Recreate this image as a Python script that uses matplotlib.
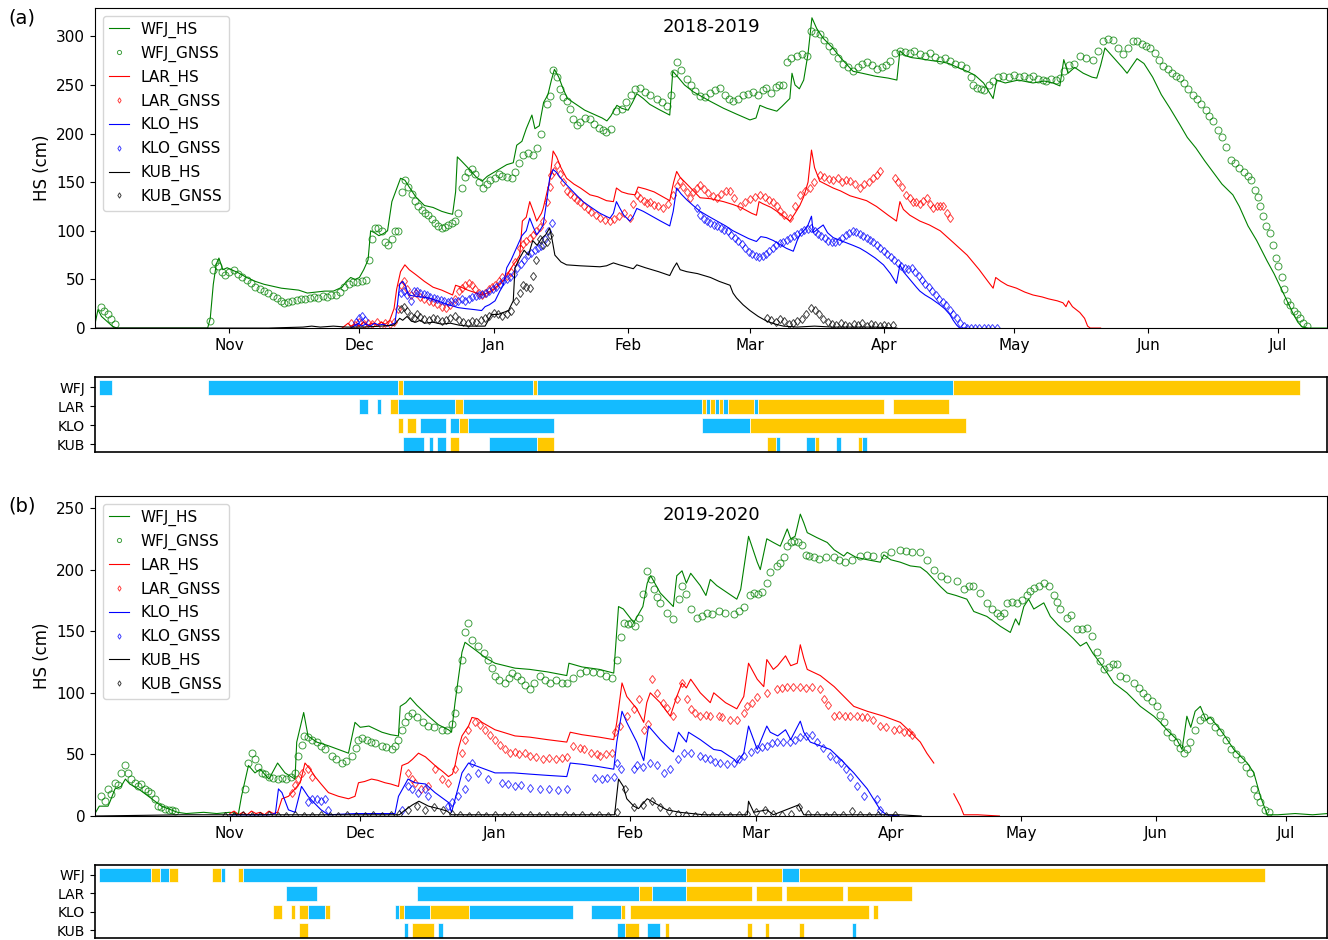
import numpy as np
import pandas as pd
import matplotlib
matplotlib.use("Agg")
import matplotlib.pyplot as plt

# x values are days since 1 October of the season start, y values snow height (cm)

# ---------------- 2018-2019 ----------------
wfj_hs_a = [(0,4),(0.7,19),(1.5,12),(2.5,8),(4,2),(5,0),(26,0),(26.6,10),(27.3,45),(28,66),(28.6,72),(29.5,60),
    (30.5,62),(31.5,60),(33,57),(35,52),(37,48),(39,45),(41,43),(43,41),(45,40),(47,39),(49,36),(51,37),(53,38),
    (55,38),(56,40),(57,42),(58,48),(59,52),(60,50),(61,52),(62,60),(63,70),(63.6,100),(64.5,98),(65.5,95),(66.5,97),
    (67.5,100),(68.5,130),(69.5,142),(70.5,154),(71.5,152),(72.5,145),(74,135),(76,126),(78,124),(80,120),(81.5,118),
    (82.5,117),(83.2,140),(83.6,176),(84.5,172),(86,165),(88,155),(89.3,151),(90.5,156),(92,160),(93.5,164),(95,168),
    (96.5,170),(97.3,188),(98.5,192),(99.5,205),(100.8,219),(101.5,205),(102.5,208),(103.5,232),(104.5,240),(105.3,255),
    (106,266),(107,258),(108,246),(109,236),(111,230),(113,224),(115,220),(117,216),(118.1,213),(119,218),(120.4,229),
    (121.5,226),(123,224),(124,232),(125,241),(126.5,236),(128,230),(130,225),(132.6,219),(133.3,264),(134.5,258),
    (136,250),(138,243),(139.6,239),(142,233),(145,226),(148,220),(151.1,214),(152.5,216),(153.4,229),(155,226),
    (157.3,223),(158.5,228),(160.3,236),(160.8,262),(161.5,250),(162.5,246),(163.5,255),(164.5,282),(165.4,319),
    (166.5,308),(168,298),(170.2,288),(172,278),(174.9,264),(177,262),(180,259),(183,257),(185,255),(185.7,285),
    (187,280),(188.5,278),(190.3,277),(193,275),(195,274),(197,272),(199,268),(201.2,264),(203,260),(205,252),
    (207.2,236),(208,255),(210,252),(213,255),(216.4,252),(219,254),(221,252),(222.6,249),(223.5,276),(224.5,262),
    (226,268),(228,262),(230,258),(231.1,257),(232,270),(233,288),(235,278),(237,268),(238.1,262),(239,268),
    (240.4,277),(242,272),(244,258),(246,240),(248,226),(250.3,209),(252,196),(254,185),(256,172),(258,160),
    (260,148),(262.5,137),(264,125),(266,105),(268,90),(270.4,69),(272,56),(273.5,42),(275,28),(276.5,14),
    (277.5,6),(278.5,1),(280,0),(284.3,0)]
wfj_gnss_a = [(1.5,22),(2.2,18),(3,14),(3.8,9),(4.6,4),(26.5,7),(27.2,60),(27.8,68),(28.5,64),(29.2,58),(30,55),
    (31,58),(32,60),(33,56),(34,52),(35,49),(36,46),(37,42),(38,40),(39,38),(40,36),(41,33),(42,31),(43,28),
    (43.5,26),(44.5,27),(45.5,28),(46.5,29),(47.5,30),(48.5,30),(49.5,31),(50.5,32),(51.5,31),(52.5,33),(53.5,32),
    (54.5,34),(55.5,34),(56.5,37),(57.5,42),(58.5,45),(59.5,47),(60.5,47),(61.5,48),(62.5,49),(63.3,70),(63.8,92),
    (64.6,103),(65.4,103),(66.2,100),(67,88),(67.7,85),(68.5,92),(69.2,100),(70,100),(70.8,140),(71.5,152),
    (72.3,145),(73.1,138),(73.8,131),(74.6,126),(75.4,121),(76.2,118),(76.9,116),(77.7,112),(78.5,108),(79.2,105),
    (80,103),(80.8,104),(81.5,106),(82.3,108),(83.1,110),(83.8,118),(84.6,144),(85.4,155),(86.1,160),(86.9,164),
    (87.7,158),(88.5,150),(89.6,144),(90.4,148),(91.2,152),(92.3,154),(93.1,158),(94,156),(95,155),(96.2,154),
    (97,160),(97.8,170),(98.8,178),(100,180),(101.1,178),(102,185),(103,200),(104.2,230),(104.9,239),(105.7,265),
    (106.5,258),(107.3,246),(108,238),(108.8,233),(109.6,225),(110.3,215),(111.1,209),(112,212),(113,216),
    (114.2,215),(115.2,210),(116.2,206),(117.2,204),(118,202),(119,205),(120.3,223),(121.5,225),(122.5,232),
    (123.6,240),(124.6,246),(125.7,247),(126.8,243),(128,240),(129.6,236),(130.7,232),(131.9,228),(132.8,240),
    (133.6,262),(134.2,274),(135.3,265),(136.5,256),(137.5,250),(138.5,244),(139.6,239),(140.7,238),(141.8,242),
    (143,245),(144.2,247),(145.3,240),(146.2,236),(147.2,233),(148.3,236),(149.5,240),(150.7,241),(151.9,243),
    (153,240),(154,245),(154.9,247),(156,242),(157,248),(157.9,250),(158.8,250),(159.6,274),(160.5,278),
    (161.9,280),(163,282),(164.2,280),(165.3,305),(166.2,303),(167.2,302),(168.3,296),(169.3,290),(170.3,285),
    (171.5,278),(172.6,272),(173.8,268),(174.9,264),(176,268),(177,272),(178,274),(179.2,270),(180.3,266),
    (181.5,268),(182.6,270),(183.5,275),(184.6,283),(185.7,285),(186.8,284),(188,283),(189,285),(190.3,282),
    (191.5,280),(192.7,283),(193.8,279),(195,276),(196.2,278),(197.3,275),(198.5,272),(199.7,270),(201,267),
    (202,258),(202.6,250),(203.5,247),(204.3,246),(205.2,245),(206.2,250),(207.2,254),(208.3,258),(209.5,259),
    (210.8,258),(212,260),(213.2,258),(214.4,259),(215.5,257),(216.5,259),(217.6,256),(218.6,255),(219.5,254),
    (220.5,256),(221.6,255),(222.6,257),(223.6,264),(224.6,270),(225.8,272),(227.2,280),(228.7,278),(230.3,276),
    (231.5,285),(232.6,295),(233.7,297),(234.9,296),(236,288),(237.2,282),(238.3,288),(239.5,295),(240.5,295),
    (241.5,292),(242.5,290),(243.4,288),(244.5,283),(245.5,276),(246.5,269),(247.5,266),(248.5,262),(249.5,259),
    (250.3,257),(251.2,252),(252.2,246),(253.2,240),(254.2,236),(255.2,230),(256.2,224),(257.1,218),(258,213),
    (259,204),(260,196),(261,186),(262,173),(263,170),(264,165),(265,160),(266,156),(266.7,152),(267.5,142),
    (268.2,135),(268.8,126),(269.5,115),(270.2,105),(271,98),(271.8,85),(272.5,72),(273,64),(273.8,52),
    (274.4,40),(274.9,28),(275.7,24),(276.5,18),(277.2,14),(278,10),(278.8,5),(279.5,2)]
lar_hs_a = [(57,0),(58.4,5),(59,2),(60,4),(61,2),(62,6),(63,3),(64,5),(65,3),(66,6),(67,4),(68,8),(69,20),(69.6,40),
    (70.5,58),(71.5,65),(72.5,60),(74,55),(76,48),(78,42),(80,39),(81.5,36),(82.5,34),(83.2,44),(84.5,42),(86,39),
    (88,36),(89.3,34),(90.5,36),(92,40),(93.5,46),(94.5,50),(95.5,58),(96.5,65),(97.2,69),(98,75),(98.6,110),
    (99.5,114),(100.3,130),(101.3,118),(101.9,110),(103,118),(103.4,123),(104.3,140),(104.9,151),(105.7,182),
    (106.5,176),(107.5,165),(108.8,154),(110.5,148),(112,144),(114.2,137),(116,135),(118,131),(119.6,130),
    (120.3,144),(121.5,140),(123,138),(124.6,137),(125.3,145),(127,143),(129,140),(131,135),(132.6,131),
    (133.5,150),(134.2,161),(135,155),(137,146),(139.6,134),(142,133),(145,130),(147.2,127),(149,124),(151.5,118),
    (152.6,116),(153.2,130),(154,128),(156,124),(158,118),(160.3,110),(161.5,118),(162.6,126),(163.5,135),
    (164.5,150),(165.3,183),(166,165),(167.2,151),(170.3,144),(172,141),(174.2,136),(176.5,133),(178,131),
    (180.3,125),(183,116),(184.9,110),(185.7,130),(186.5,122),(188,116),(190.3,110),(192.5,106),(195,100),
    (198,88),(201.2,75),(204,60),(206,48),(207.2,41),(207.8,52),(209,48),(210.5,44),(212.6,41),(214.5,37),
    (216.4,34),(218.5,32),(220,30),(222,28),(223.3,26),(224,22),(224.6,28),(225.5,22),(227.2,16),(228.3,10),
    (229,2),(229.6,0),(232,0)]
lar_gnss_a = [(59,5),(60,3),(61,6),(62,4),(63,5),(64,4),(65,6),(66,3),(67,5),(68,4),(69,6),(69.8,20),(70.5,44),
    (71.3,48),(72,40),(73,34),(74,36),(75,32),(76,30),(77,28),(78,27),(79,25),(80,22),(81,21),(82,24),(83,30),
    (84,38),(84.6,41),(85.4,44),(86.2,46),(86.9,44),(87.7,40),(88.5,36),(89.2,34),(90,36),(90.8,40),(91.5,42),
    (92.3,44),(93.1,48),(94,52),(95,54),(96,58),(97,68),(98,82),(98.8,86),(99.5,90),(100.3,93),(101.1,96),
    (101.8,100),(102.6,104),(103.4,110),(104.2,130),(104.9,145),(105.3,157),(106,162),(106.5,168),(107.3,158),
    (108,150),(108.8,141),(109.6,138),(110.5,135),(111.2,132),(111.9,130),(112.8,126),(113.7,122),(114.5,119),
    (115.5,116),(116.5,113),(117.6,111),(118.8,110),(119.8,112),(120.8,115),(122,118),(123.4,113),(124.2,128),
    (125,137),(125.8,134),(126.6,131),(127.4,129),(128,130),(129,127),(130,125),(131.1,123),(132.2,128),
    (133.4,137),(134.2,146),(134.9,151),(135.7,145),(136.5,140),(137.2,134),(138,140),(138.8,144),(139.6,147),
    (140.6,143),(141.5,139),(142.5,136),(143.4,134),(144.5,138),(145.5,141),(146.5,141),(147.5,134),(148.8,126),
    (150,130),(151,133),(152.3,135),(153.4,137),(154.5,135),(155.5,132),(156.5,130),(157.3,125),(158,120),
    (159,116),(160.3,113),(161.5,125),(162.6,137),(163.7,141),(164.9,144),(165.8,150),(167.2,157),(168.2,155),
    (169.3,153),(170.3,152),(171.3,154),(172.3,150),(173.2,152),(174.2,151),(175.3,148),(176.5,144),(177.5,148),
    (178.5,150),(179.4,154),(180.3,157),(181.1,161),(184.5,154),(185.3,150),(186.2,145),(187.2,137),(188,134),
    (188.8,130),(189.5,130),(190.3,128),(191.1,131),(191.9,134),(192.6,128),(193.4,123),(194.2,126),(194.9,125),
    (195.7,125),(196.5,118),(197.2,113)]
klo_hs_a = [(59,0),(60.8,5),(61.5,2),(62.5,4),(63.5,2),(64.5,5),(65.5,3),(66.5,4),(67.5,2),(68.5,4),(69.2,5),
    (69.8,25),(70.3,45),(71,48),(71.6,44),(72.3,34),(73.5,33),(75,32),(77,31),(79,28),(81.5,24),(83.8,21),
    (85.5,20),(87.5,19),(89.2,18),(90,22),(91,24),(92.3,28),(93.4,38),(94.2,44),(95,62),(96,70),(97.2,82),
    (98.5,95),(99.5,100),(100.3,113),(101.1,104),(101.9,96),(102.6,100),(103.4,106),(104.2,130),(104.9,154),
    (105.7,163),(106.5,160),(107.3,155),(108,151),(109.5,144),(111,137),(112.6,130),(114.5,124),(116.5,118),
    (118.8,113),(119.6,118),(120.3,130),(121,124),(122,116),(123.4,110),(124.2,115),(125,123),(126.5,120),
    (128.5,115),(130.5,110),(132.6,105),(133.4,120),(134.2,144),(135.2,138),(136.5,132),(138,126),(139.6,120),
    (141.5,115),(143.5,110),(145.5,105),(147.2,100),(149,96),(150.8,92),(152.6,89),(153.6,94),(154.9,93),
    (156.5,90),(158,86),(159.5,82),(161.1,79),(162,90),(162.6,96),(163.5,100),(164.5,106),(165.3,115),(165.7,98),
    (166.8,102),(168,106),(169,98),(170.3,93),(172,90),(174.9,85),(176.5,82),(178,78),(180,72),(181.9,65),
    (183.5,56),(184.9,46),(185.7,65),(186.5,58),(188,50),(189.5,42),(190.3,38),(191.5,34),(193,30),(194.9,24),
    (196,20),(197.2,14),(198,8),(198.8,3),(199.5,0),(201,0)]
klo_gnss_a = [(60.3,6),(60.8,10),(61.5,12),(62.2,8),(70.5,36),(71.3,38),(72,34),(72.8,28),(73.5,38),(74.3,38),
    (75,36),(75.8,35),(76.6,34),(77.4,32),(78.2,31),(79,30),(79.8,29),(80.6,28),(81.4,27),(82.2,28),(83,27),
    (83.8,28),(84.6,30),(85.4,28),(86.2,30),(87,32),(87.8,33),(88.6,34),(89.4,35),(90.2,36),(91,38),(91.8,40),
    (92.6,42),(93.4,45),(94.2,48),(95,50),(95.8,52),(96.6,56),(97.4,62),(98.2,66),(99,70),(99.8,75),(100.6,77),
    (101.4,80),(102.2,82),(103,84),(103.8,92),(104.6,100),(105.5,108),(138.8,123),(139.6,116),(140.4,112),
    (141.2,110),(142,108),(142.8,106),(143.6,105),(144.4,103),(145.2,101),(146,100),(146.8,96),(147.6,93),
    (148.4,90),(149.2,86),(150,82),(150.8,78),(151.6,76),(152.4,74),(153.2,73),(154,74),(154.8,76),(155.6,79),
    (156.4,82),(157.2,85),(158,87),(158.8,89),(159.6,91),(160.4,93),(161.2,95),(162,97),(162.8,99),(163.6,101),
    (164.4,102),(165.2,103),(166,100),(166.8,97),(167.6,95),(168.4,93),(169.2,90),(170,89),(170.8,88),(171.6,90),
    (172.4,93),(173.2,96),(174,98),(174.8,100),(175.6,99),(176.4,97),(177.2,95),(178,93),(178.8,91),(179.6,88),
    (180.4,85),(181.2,82),(182,79),(182.8,76),(183.6,73),(184.4,70),(185.2,67),(186,64),(186.8,62),(187.6,61),
    (188.4,62),(189.2,58),(190,54),(190.8,49),(191.6,45),(192.4,42),(193.2,38),(194,34),(194.8,30),(195.6,27),
    (196.4,24),(197.2,19),(198,14),(198.8,10),(199.6,5),(200.4,2),(201.2,0),(202,0),(203,0),(204,0),(205,0),
    (206,0),(207,0),(208,0)]
kub_hs_a = [(0,0),(40,0),(48,1),(50,2),(52,1),(55,2),(58,1),(62,1),(66,2),(69,3),(70.3,10),(71,8),(72,12),(73,7),
    (74,6),(75,8),(76,5),(78,6),(80,4),(82,5),(84,3),(86,2),(88,2),(90,2),(91.5,14),(93,14),(95.4,18),(96.5,28),
    (96.9,62),(98,72),(99,80),(100,75),(101,90),(102,85),(103,92),(104,96),(104.9,103),(105.5,90),(106.1,75),
    (107.5,68),(108.8,65),(112,64),(116.5,63),(118,64),(119.6,67),(121,65),(124.2,61),(125,65),(127,62),(130,58),
    (132.6,54),(133.5,62),(134.2,67),(135,60),(136.5,58),(139,56),(142,52),(144,48),(146.5,44),(147.2,36),(148,31),
    (149.5,24),(151.1,18),(153,12),(155,7),(157,4),(158.8,2),(162,1),(166,2),(170,1),(175,1),(180,1),(185,0)]
kub_gnss_a = [(70.5,20),(71.3,22),(72,18),(72.8,12),(73.5,10),(74.3,14),(75,11),(76,9),(77,8),(78,10),(79,9),
    (80,7),(81,8),(82,10),(83,12),(84,8),(85,6),(86,5),(87,7),(88,6),(89,8),(90,10),(91,12),(92,15),(93,14),
    (94,12),(95,14),(96,18),(97.2,28),(98,36),(98.8,44),(99.5,42),(100.3,41),(101.1,54),(101.8,70),(102.6,92),
    (103.4,85),(104.2,89),(104.9,96),(155,10),(156,8),(157,6),(158,9),(159,7),(160,4),(161,5),(162,7),(163,9),
    (164,14),(165.3,21),(166,19),(167,14),(168,9),(169,6),(170,4),(171,3),(172,5),(173,3),(174,2),(175,4),
    (176,3),(177,5),(178,2),(179,4),(180,3),(181,2),(182,3),(183,2),(184,3)]

# snow state per station: (start day, end day, state) with d = dry, w = wet
wfj_state_a = [(1,4,'d'),(26,70,'d'),(70,71,'w'),(71,101,'d'),(101,102,'w'),(102,198,'d'),(198,278,'w')]
lar_state_a = [(61,63,'d'),(65,66,'d'),(68,70,'w'),(70,83,'d'),(83,85,'w'),(85,140,'d'),(140,141,'w'),
    (141,142,'d'),(142,143,'w'),(143,144,'d'),(144,145,'w'),(145,146,'d'),(146,152,'w'),(152,153,'d'),
    (153,182,'w'),(184,197,'w')]
klo_state_a = [(70,71,'w'),(72,74,'w'),(75,81,'d'),(82,84,'d'),(84,86,'w'),(86,106,'d'),(140,151,'d'),(151,201,'w')]
kub_state_a = [(71,76,'d'),(77,78,'d'),(79,81,'d'),(82,84,'w'),(91,102,'d'),(102,106,'w'),(155,157,'w'),
    (157,158,'d'),(164,166,'d'),(166,167,'w'),(171,172,'d'),(176,177,'w'),(177,178,'d')]

# ---------------- 2019-2020 ----------------
wfj_hs_b = [(0,2),(1,8),(3,8),(3.5,12),(4.6,22),(6,24),(7,30),(8,26),(10,22),(12.3,16),(15.3,8),(19,3),(21,2),
    (25,3),(28,2),(31,3),(33,2),(33.7,16),(35.3,41),(36.8,35),(38,38),(40,30),(42,43),(43.7,35),(46,30),(46.4,60),
    (48,84),(49,65),(51,60),(53.7,57),(56,54),(58.3,51),(59.8,76),(61,72),(63,73),(66,68),(68,66),(69.8,65),
    (70.2,89),(71.5,92),(72.5,96),(74,90),(76.7,81),(79,74),(81.3,70),(82,68),(82.8,92),(84.4,133),(85.1,141),
    (87.4,135),(90,128),(92,124),(96.6,120),(100,119),(104,117),(108.5,114),(109,124),(112,121),(116,119),
    (119.3,116),(120.4,170),(121.5,168),(123.9,157),(126,170),(127,189),(127.8,195),(130,181),(133,170),
    (133.8,195),(135,199),(136,189),(137,197),(139.2,187),(140.5,179),(141.5,192),(143,187),(147.6,176),
    (148.5,184),(150.3,227),(152.3,206),(153,200),(154.5,225),(156,222),(157.6,219),(159.2,233),(160,225),
    (161,227),(162.2,245),(163,238),(163.8,230),(166,226),(168.4,222),(170,216),(172.2,211),(173,214),(175,210),
    (177.6,208),(180.6,206),(181.4,212),(183,208),(185.2,206),(187.5,203),(189.8,202),(191.3,198),(192.9,192),
    (194.5,186),(196,181),(198,179),(200.5,176),(202.1,166),(205.1,162),(208.2,154),(210.5,149),(211.7,160),
    (212.5,155),(213.6,170),(214.7,176),(215.9,168),(218.2,173),(219.7,162),(221.5,155),(223.5,149),(225,144),
    (226.6,138),(228,141),(229.5,132),(231.2,124),(232.8,116),(234.3,108),(237.3,100),(240.4,89),(243.5,81),
    (245,76),(246.5,70),(248.8,62),(250,54),(251.1,81),(252,72),(253,85),(254.2,89),(255.5,78),(256.5,80),
    (258.8,70),(260,64),(261.9,54),(265,43),(266.5,35),(268,16),(269.6,1),(272,1),(276,2),(280,1),(283.4,2)]
wfj_gnss_b = [(1.5,16),(2.2,12),(3,22),(3.8,18),(4.6,27),(5.3,25),(6,35),(7,41),(7.7,35),(8.4,30),(9.2,27),
    (10,24),(10.7,26),(11.5,22),(12.3,20),(13,19),(13.8,14),(14.6,8),(15.3,7),(16,6),(17,5),(17.7,5),(18.4,4),
    (34.5,22),(35.3,43),(36,51),(36.8,46),(37.5,40),(38.3,35),(39,34),(40,32),(41,31),(42,30),(43,31),(44,30),
    (45,32),(46,35),(46.8,49),(47.5,58),(48,65),(49,64),(50,62),(51,60),(52,57),(53,54),(54.4,49),(55.5,46),
    (56.7,43),(57.8,45),(59,49),(60,55),(60.6,62),(61.5,63),(62.5,62),(63.5,60),(64.5,59),(66,57),(67,56),
    (68.3,54),(69,57),(69.8,62),(70.5,70),(71.3,76),(72,81),(73,84),(74,80),(75.5,76),(76.7,73),(78,72),
    (79.8,70),(81,70),(82,75),(82.8,84),(83.6,103),(84.4,127),(85.1,149),(85.9,157),(86.7,143),(88.2,138),
    (89.5,132),(90.5,127),(91.3,120),(92,114),(93,110),(94.3,108),(95.2,112),(96,116),(97,114),(98,110),
    (99,106),(100.1,103),(101,108),(102.4,114),(103.5,110),(104.6,108),(106,110),(107.3,108),(108.5,108),
    (110,112),(111.5,116),(113,118),(114.5,117),(116.2,116),(117.5,114),(118.8,112),(120,127),(121,145),
    (121.6,157),(122.5,156),(123.3,157),(124.1,154),(125,161),(126,180),(127,199),(127.8,192),(128.5,184),
    (129.3,178),(130,173),(131.5,165),(133,160),(134.2,176),(135,187),(136,180),(137,168),(138.4,161),
    (139.5,162),(140.7,165),(142,164),(143.5,166),(145,165),(146.9,164),(148,166),(149.2,170),(150.7,179),
    (151.5,181),(152.5,180),(153.5,182),(154.5,189),(155.3,198),(156.8,203),(157.6,205),(158.4,210),(159.2,219),
    (160,222),(160.7,223),(161.7,222),(162.6,220),(163.4,212),(164.2,211),(165.3,210),(166.5,209),(168,210),
    (169.9,210),(171,208),(172.5,206),(174,208),(176,211),(177.5,212),(179,211),(181.4,212),(183,214),
    (185.2,216),(186.5,215),(188,214),(189.8,214),(191.3,208),(192.9,200),(194.5,195),(196,192),(198.2,191),
    (199.8,184),(201,187),(202,187),(203.6,181),(205.1,173),(206.2,168),(207.4,165),(208.2,162),(209,165),
    (209.7,173),(211,174),(212,173),(213.2,175),(214.3,179),(215.1,183),(215.9,185),(217,187),(218.2,189),
    (219.3,187),(220.5,179),(221.3,174),(222,168),(223.5,161),(224.5,163),(225.8,152),(227,152),(228.1,153),
    (229.2,146),(230.4,133),(231.2,126),(232,119),(233.2,121),(234,123),(235,123),(235.8,114),(237,112),
    (238.9,108),(240.2,104),(241,100),(242,97),(243,93),(244.2,89),(245,82),(245.8,76),(246.5,68),(247.7,64),
    (248.8,60),(249.5,55),(250.4,51),(251.1,54),(251.9,60),(253,70),(254.2,78),(255,80),(256.5,78),(257.5,72),
    (258.8,68),(260,62),(261.2,54),(262.3,50),(263.5,46),(264.6,40),(265.7,35),(266.5,22),(267.2,16),(268,11),
    (269,5),(270,3)]
lar_hs_b = [(31,2),(32,4),(33,1),(34,3),(35,1),(36,4),(37,2),(38,3),(39,1),(40,4),(41,2),(42,3),(43,14),(44.5,16),
    (46,22),(47.2,27),(48.3,43),(49.5,38),(50.6,32),(52,26),(53.7,19),(56,16),(58.3,14),(59.8,16),(60.6,27),
    (62,28),(63.6,30),(65,29),(66.7,27),(68,26),(69.8,24),(70.6,41),(72,43),(73,46),(74.4,51),(76,48),(78.2,41),
    (80,36),(81.3,32),(82.2,34),(82.8,41),(83.6,55),(84.4,65),(85.9,73),(86.7,80),(88,79),(89,76),(92,70),
    (96.6,65),(100,64),(104,62),(108.5,60),(109.3,68),(112,66),(116,64),(119.3,62),(120,76),(121.2,108),
    (122.3,97),(124.6,87),(126.2,76),(126.9,92),(127.7,100),(130,92),(132.3,81),(133.8,97),(135,108),(136,104),
    (137,111),(139.2,100),(141.5,92),(142.3,100),(145,92),(147.6,87),(149.2,97),(150.3,124),(152.3,111),
    (153.8,105),(154.5,127),(156,119),(157,122),(158.8,130),(160,122),(161.5,124),(162.2,139),(163,128),
    (163.8,119),(166.8,114),(170,105),(174.5,89),(177.6,85),(181.4,81),(185.2,76),(187,70),(189.8,60),
    (191.3,51),(192.9,43),(195,np.nan),(197.5,18),(199,8),(199.8,1),(203,1),(208,0)]
lar_gnss_b = [(45.2,19),(46,25),(46.8,30),(47.5,35),(49,38),(49.8,32),(72,35),(72.8,30),(73.6,27),(75,22),
    (76.7,24),(78.2,38),(79.8,30),(81.3,27),(82.8,38),(84.4,51),(85.1,62),(85.9,70),(87.4,76),(88.5,74),
    (89.7,70),(90.8,66),(92,62),(93.1,58),(94.3,54),(95.4,51),(96.5,52),(97.6,50),(98.8,51),(100.1,49),
    (101.5,48),(103,46),(104.5,47),(106,46),(107.5,47),(108.5,48),(110,57),(111.5,55),(112.5,54),(114,51),
    (115.5,50),(116.2,49),(117.5,50),(118.8,51),(119.7,68),(120.8,73),(122.3,81),(123.9,87),(125,95),(126.2,70),
    (127.1,75),(128.1,111),(129.2,100),(130.7,92),(131.5,88),(133,81),(133.8,95),(135,108),(136.1,95),(137,87),
    (138,84),(139.2,81),(140.5,82),(141.5,81),(143.5,81),(144.2,80),(146.1,78),(147.6,78),(149.2,84),(150,89),
    (151,92),(152.3,97),(154.5,100),(156.8,103),(158,104),(159.2,105),(160.5,105),(162.2,105),(163.5,104),
    (164.9,105),(166.8,103),(167.6,95),(168.5,90),(170,81),(171.2,82),(172.5,81),(173.7,81),(175.2,81),
    (176.3,80),(177.6,80),(179,78),(180.6,73),(181.8,72),(183.7,70),(185,71),(186,68),(187.2,68),(188,66)]
klo_hs_b = [(31,1),(35,1),(40,1),(41.5,2),(42.2,22),(43,19),(44.5,5),(46,3),(47.5,24),(49,16),(50.6,10),(52,5),
    (53.7,1),(60,2),(65,2),(69,2),(69.8,16),(72,30),(73.6,27),(76,26),(78.2,19),(81.3,11),(82,3),(83.6,24),
    (84.4,35),(85.9,43),(87.4,41),(92,35),(96.3,35),(100,34),(104,33),(108.5,32),(109.3,43),(112,42),(116,40),
    (119.3,38),(120,60),(121.2,85),(122.3,76),(124.6,60),(126.2,45),(127.3,73),(130,62),(132.3,54),(133,52),
    (134.2,68),(136,60),(136.5,68),(139.2,62),(142.3,54),(144,53),(147,46),(147.6,43),(149.2,51),(150.3,73),
    (152.3,54),(154.5,73),(155.3,68),(157,65),(158.8,70),(160,62),(162.2,77),(163,68),(164.5,60),(169.1,54),
    (171.5,46),(174.5,35),(177.6,22),(179,14),(180.6,5),(182,1),(185,0)]
klo_gnss_b = [(49,11),(50,14),(51,14),(52,12),(53,14),(53.7,5),(70.6,5),(72,24),(72.8,22),(74.4,19),(76,22),
    (76.7,16),(81.3,8),(82,11),(83.6,16),(85.1,22),(85.9,32),(86.7,43),(88.2,35),(90.5,30),(93.6,27),(95,26),
    (96.6,24),(98,25),(100,23),(102.4,22),(104.5,22),(106.5,21),(108.5,22),(115,31),(116.5,30),(117.8,31),
    (119.3,32),(120,43),(121,38),(123.9,38),(124.6,41),(126,40),(127.7,43),(129.2,41),(130.8,35),(132.3,38),
    (134,46),(135.5,51),(137,51),(139.2,49),(140.3,47),(141.5,46),(142.7,44),(143.8,43),(145.4,42),(147,43),
    (148.1,46),(149.2,49),(150.8,52),(152.3,54),(153.4,56),(154.5,57),(155.6,59),(156.8,60),(158.3,60),
    (159.9,60),(161,62),(162.2,64),(163.5,65),(164.9,66),(166,60),(167.5,55),(169.1,49),(170.3,46),(171.5,43),
    (172.6,38),(173.7,32),(175.2,24),(176.8,16),(179.9,14),(180.6,5)]
kub_hs_b = [(0,0),(20,1),(40,1),(60,1),(70,1),(71,4),(73,9),(74.5,12),(76.7,8),(79,6),(81,4),(82,1),(100,1),
    (119.5,1),(120.4,30),(121.5,24),(122.3,14),(123.9,8),(125,6),(127,14),(128.5,11),(131.5,5),(134.5,3),
    (140,1),(150,1),(150.3,12),(151.5,3),(154.5,5),(156,1),(161.8,9),(163,1),(185,1),(190,0)]
kub_gnss_b_start = 30
kub_gnss_b = [0,0,1,0,0,1,0,0,1,0,0,1,0,0,1,0,0,1,0,1,2,5,8,5,7,5,2,1,0,1,0,1,0,1,0,1,0,1,0,1,0,1,0,1,0,3,22,7,
    9,12,7,4,2,1,0,1,0,1,0,1,2,3,5,2,1,2,7,2,1,0,1,1,4,1,0,1,0,1]

wfj_state_b = [(1,13),(13,15,'w'),(15,17,'d'),(17,19,'w'),(27,29,'w'),(29,30,'d'),(33,34,'w'),(34,136,'d'),
    (136,158,'w'),(158,162,'d'),(162,269,'w')]
wfj_state_b[0] = (1,13,'d')
lar_state_b = [(44,51,'d'),(74,125,'d'),(125,128,'w'),(128,136,'d'),(136,151,'w'),(152,158,'w'),(159,172,'w'),
    (173,188,'w')]
klo_state_b = [(41,43,'w'),(45,46,'w'),(47,49,'w'),(49,53,'d'),(53,54,'w'),(69,70,'d'),(70,71,'w'),(71,77,'d'),
    (77,86,'w'),(86,110,'d'),(114,121,'d'),(121,122,'w'),(123,178,'w'),(179,180,'w')]
kub_state_b = [(47,49,'w'),(71,72,'d'),(73,78,'w'),(79,80,'d'),(120,122,'d'),(122,125,'w'),(127,130,'d'),
    (131,132,'w'),(150,151,'w'),(154,155,'w'),(162,163,'w'),(174,175,'d')]

stations = ['WFJ', 'LAR', 'KLO', 'KUB']
colors = ['green', 'red', 'blue', 'black']
markers = ['o', 'd', 'd', 'd']
state_colors = {'d': '#14bbff', 'w': '#ffc800'}


def xy(pairs):
    a = np.array(pairs, dtype=float)
    return a[:, 0], a[:, 1]


def draw_main(ax, hs, gnss, title, xmax, ymax, ylim_ticks, season_start):
    for name, h, g, c, m in zip(stations, hs, gnss, colors, markers):
        ax.plot(*xy(h), color=c, lw=0.8, label=name + '_HS')
        gx, gy = g
        ms = 5 if m == 'o' else 4.5
        ax.plot(gx, gy, ls='none', marker=m, ms=ms, mfc='none', mec=c, mew=0.7, alpha=0.75,
                label=name + '_GNSS')
    ax.set_xlim(0, xmax)
    ax.set_ylim(0, ymax)
    ax.set_yticks(ylim_ticks)
    ax.tick_params(labelsize=11)
    months = pd.date_range(season_start + '-11-01', periods=9, freq='MS')
    pos = (months - pd.Timestamp(season_start + '-10-01')).days
    ax.set_xticks(pos)
    ax.set_xticklabels(months.strftime('%b'))
    ax.set_ylabel('HS (cm)', fontsize=12)
    ax.text(0.5, 0.94, title, transform=ax.transAxes, ha='center', va='center', fontsize=13)
    ax.legend(loc='upper left', fontsize=11, markerscale=0.6, handlelength=1.3, labelspacing=0.5,
              borderpad=0.4, framealpha=0.8)


def draw_strip(ax, states, xmax):
    for i, st in enumerate(states):
        for s, e, k in st:
            ax.broken_barh([(s, e - s)], (i - 0.39, 0.78), facecolor=state_colors[k],
                           edgecolor='white', linewidth=0.5)
    ax.set_xlim(0, xmax)
    ax.set_ylim(3.42, -0.53)
    ax.set_yticks(range(4))
    ax.set_yticklabels(stations, fontsize=10)
    ax.set_xticks([])
    for sp in ax.spines.values():
        sp.set_linewidth(1.2)


fig = plt.figure(figsize=(13.28, 9.40), dpi=100)
ax_a = fig.add_axes([0.0715, 0.651, 0.928, 0.3404])
ax_sa = fig.add_axes([0.0715, 0.519, 0.928, 0.0798])
ax_b = fig.add_axes([0.0715, 0.1319, 0.928, 0.3404])
ax_sb = fig.add_axes([0.0715, 0.002, 0.928, 0.0777])

kub_b_days = kub_gnss_b_start + 2 * np.arange(len(kub_gnss_b))

draw_main(ax_a, [wfj_hs_a, lar_hs_a, klo_hs_a, kub_hs_a],
          [xy(wfj_gnss_a), xy(lar_gnss_a), xy(klo_gnss_a), xy(kub_gnss_a)],
          '2018-2019', 284.3, 329, range(0, 301, 50), '2018')
draw_main(ax_b, [wfj_hs_b, lar_hs_b, klo_hs_b, kub_hs_b],
          [xy(wfj_gnss_b), xy(lar_gnss_b), xy(klo_gnss_b), (kub_b_days, np.array(kub_gnss_b, float))],
          '2019-2020', 283.4, 259.7, range(0, 251, 50), '2019')
draw_strip(ax_sa, [wfj_state_a, lar_state_a, klo_state_a, kub_state_a], 284.3)
draw_strip(ax_sb, [wfj_state_b, lar_state_b, klo_state_b, kub_state_b], 283.4)

fig.text(0.006, 0.981, '(a)', fontsize=14, va='center')
fig.text(0.006, 0.4617, '(b)', fontsize=14, va='center')

fig.savefig('out.png', dpi=100)
